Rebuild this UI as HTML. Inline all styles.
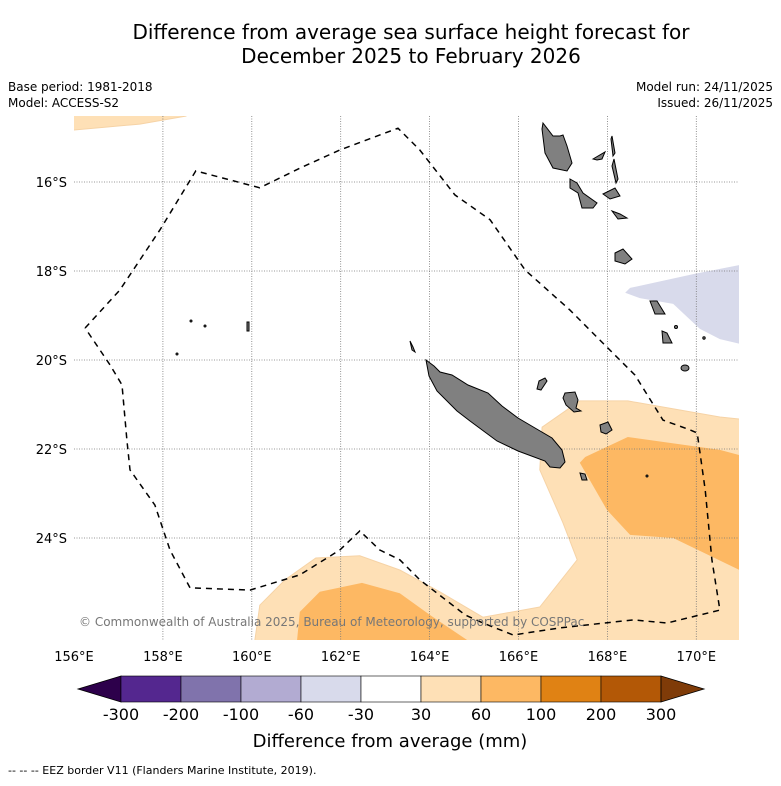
<!DOCTYPE html>
<html><head><meta charset="utf-8"><style>
body{margin:0;background:#fff;}
svg text{font-family:"DejaVu Sans","Liberation Sans",sans-serif;}
</style></head><body>
<svg id="chart" width="781" height="781" viewBox="0 0 781 781" xmlns="http://www.w3.org/2000/svg">
<rect width="781" height="781" fill="#fff"/>
<text x="411" y="39" font-size="20" text-anchor="middle">Difference from average sea surface height forecast for</text>
<text x="411" y="63" font-size="20" text-anchor="middle">December 2025 to February 2026</text>
<text x="8" y="91" font-size="12">Base period: 1981-2018</text>
<text x="8" y="107" font-size="12">Model: ACCESS-S2</text>
<text x="773" y="91" font-size="12" text-anchor="end">Model run: 24/11/2025</text>
<text x="773" y="107" font-size="12" text-anchor="end">Issued: 26/11/2025</text>
<defs><clipPath id="mapclip"><rect x="74" y="116" width="665" height="524"/></clipPath></defs>
<g id="map" clip-path="url(#mapclip)"></g>
<g id="axes"></g>
<g id="cbar"></g>
<text x="390" y="747" font-size="18" text-anchor="middle">Difference from average (mm)</text>
<text x="8" y="774" font-size="11">--  --  -- EEZ border V11 (Flanders Marine Institute, 2019).</text>
</svg>
<script>
const lonTicks=[156,158,160,162,164,166,168,170];
const latTicks=[16,18,20,22,24];
// contour polygons [lon, lat(S)]
const lightSouthEast=[[160.07,26.29],[160.18,25.51],[160.75,24.94],[161.44,24.45],[162.43,24.40],[163.33,24.72],[164.23,25.21],[165.20,25.78],[166.48,25.55],[167.32,24.49],[167.00,23.66],[166.48,22.47],[166.53,21.51],[167.38,20.92],[168.46,20.92],[170.53,21.28],[171.2,21.35],[171.2,26.5],[160.0,26.5]];
const darkEast=[[167.38,22.31],[167.50,22.18],[168.46,21.73],[170.53,22.02],[171.2,22.20],[171.2,24.83],[169.48,24.00],[168.51,23.93],[167.99,23.37]];
const darkSouth=[[161.0,26.5],[161.02,26.29],[161.08,25.66],[161.53,25.21],[162.48,25.01],[163.33,25.24],[164.01,25.73],[164.84,26.29],[165.0,26.5]];
const lightNorthWest=[[155.8,14.3],[158.52,14.3],[158.52,14.52],[157.48,14.70],[155.8,14.85]];
const lavenderEast=[[168.40,18.49],[168.51,18.38],[169.93,18.07],[171.2,17.82],[171.2,19.69],[170.53,19.53],[170.08,19.30],[169.48,18.74],[168.73,18.61]];
const eez=[[156.25,19.28],[157.03,18.43],[157.93,17.08],[158.74,15.75],[160.18,16.13],[161.08,15.69],[161.98,15.28],[163.29,14.79],[163.78,15.28],[164.57,16.29],[165.36,16.85],[166.15,17.98],[167.16,18.88],[167.83,19.55],[168.62,20.34],[169.25,21.35],[169.86,21.57],[170.02,21.64],[170.20,22.92],[170.35,24.49],[170.53,25.62],[169.34,25.91],[168.58,25.84],[166.93,26.02],[165.88,26.18],[165.20,25.91],[164.80,25.73],[163.78,24.94],[163.33,24.49],[162.88,24.27],[162.43,23.84],[161.98,24.27],[161.08,24.83],[159.96,25.17],[158.61,25.12],[158.16,24.27],[157.82,23.26],[157.26,22.47],[157.19,21.80],[157.08,20.56],[156.81,20.11],[156.25,19.28]];
const cbarLabels=["-300","-200","-100","-60","-30","30","60","100","200","300"];
const cbarColors=["#54278f","#8073ac","#b2abd2","#d8daeb","#ffffff","#fee0b6","#fdb863","#e08214","#b35806"];
const cbarLow="#2d004b", cbarHigh="#7f3b08";

const NS="http://www.w3.org/2000/svg";
function xS(lon){return 74+(lon-156)*44.45;}
function yS(lat){return 182+(lat-16)*44.5;}
function mk(tag,attrs,parent){const e=document.createElementNS(NS,tag);for(const k in attrs)e.setAttribute(k,attrs[k]);parent.appendChild(e);return e;}
function pts(a){return a.map(p=>xS(p[0]).toFixed(1)+","+yS(p[1]).toFixed(1)).join(" ");}
const map=document.getElementById('map');
function poly(arr,fill,name){const e=mk('polygon',{points:pts(arr),fill:fill,stroke:fill==="#fee0b6"?"#f6d3a6":"none","stroke-width":1},map);

}
poly(lightSouthEast,"#fee0b6","contour-30-60-southeast");
poly(lightNorthWest,"#fee0b6","contour-30-60-northwest");
poly(darkEast,"#fdb863","contour-60-100-east");
poly(darkSouth,"#fdb863","contour-60-100-south");
poly(lavenderEast,"#d8daeb","contour-neg30-neg60-east");
lonTicks.forEach(l=>{if(l>156){const g=mk('line',{x1:xS(l),x2:xS(l),y1:116,y2:640,stroke:"#777","stroke-width":0.8,"stroke-dasharray":"1,1.5"},map);

}});
latTicks.forEach(l=>{const g=mk('line',{x1:74,x2:739,y1:yS(l),y2:yS(l),stroke:"#777","stroke-width":0.8,"stroke-dasharray":"1,1.5"},map);

});
const islands=["M426,360 L434,366 440,372 452,375 468,385 488,393 502,406 518,418 535,428 552,438 562,450 565,462 560,468 550,467 545,461 518,451 497,441 470,421 457,411 437,391 429,376Z",
"M543,123 L553,136 560,136 563,135 567,146 572,163 567,171 553,168 545,153 542,129Z",
"M570,179 L577,183 583,193 597,203 593,208 582,208 578,193 570,188Z",
"M612,136 L615,153 613,156 611,139Z","M614,159 L618,179 616,183 612,166Z",
"M593,159 L605,152 602,159 597,160Z","M603,194 L615,188 620,196 610,199Z",
"M612,211 L620,214 627,218 618,219Z","M615,253 L623,249 632,259 625,264 615,261Z",
"M650,301 L657,301 665,314 655,314Z","M662,331 L667,333 672,343 663,343Z",
"M565,393 L575,392 578,400 576,408 581,411 574,412 566,405 563,398Z","M600,425 L608,422 612,430 606,434 601,432Z",
"M539,381 L545,378 547,381 541,390 537,389Z","M410,341 L413,347 415,352 412,350Z","M247,322 L249,322 249,331 247,331Z","M580,473 L585,474 587,480 582,480Z"];
islands.forEach((d,i)=>{const e=mk('path',{d:d,fill:"#808080",stroke:"#000","stroke-width":1},map);

});
[[685,368,4,3],[191,321,1,1],[205,326,1,1],[177,354,1,1],[676,327,1.5,1.5],[704,338,1.2,1.2],[647,476,1,1]].forEach((c,i)=>{const e=mk('ellipse',{cx:c[0],cy:c[1],rx:c[2],ry:c[3],fill:"#808080",stroke:"#000","stroke-width":1},map);

});
const ez=mk('polyline',{points:pts(eez),fill:"none",stroke:"#000","stroke-width":1.5,"stroke-dasharray":"6,5"},map);


const cp=mk('text',{x:79,y:626,"font-size":12,fill:"#777"},map);


cp.textContent="© Commonwealth of Australia 2025, Bureau of Meteorology, supported by COSPPac";
const axes=document.getElementById('axes');
lonTicks.forEach(l=>{const t=mk('text',{x:xS(l),y:661,"font-size":13,"text-anchor":"middle"},axes);


t.textContent=l+"°E";});
latTicks.forEach(l=>{const t=mk('text',{x:67,y:yS(l)+5,"font-size":13,"text-anchor":"end"},axes);


t.textContent=l+"°S";});
const cb=document.getElementById('cbar');
const bx0=121,bw=60,by=676,bh=26;
const lt=mk('polygon',{points:`${bx0},${by} ${bx0},${by+bh} 78,${by+bh/2}`,fill:cbarLow,stroke:"#000","stroke-width":0.8},cb);


cbarColors.forEach((c,i)=>{const r=mk('rect',{x:bx0+i*bw,y:by,width:bw,height:bh,fill:c,stroke:"#000","stroke-width":0.6},cb);

});
const xe=bx0+cbarColors.length*bw;
const rt=mk('polygon',{points:`${xe},${by} ${xe},${by+bh} 704,${by+bh/2}`,fill:cbarHigh,stroke:"#000","stroke-width":0.8},cb);


cbarLabels.forEach((s,i)=>{const t=mk('text',{x:bx0+i*bw,y:720,"font-size":16,"text-anchor":"middle"},cb);


t.textContent=s;});
</script>
</body></html>
